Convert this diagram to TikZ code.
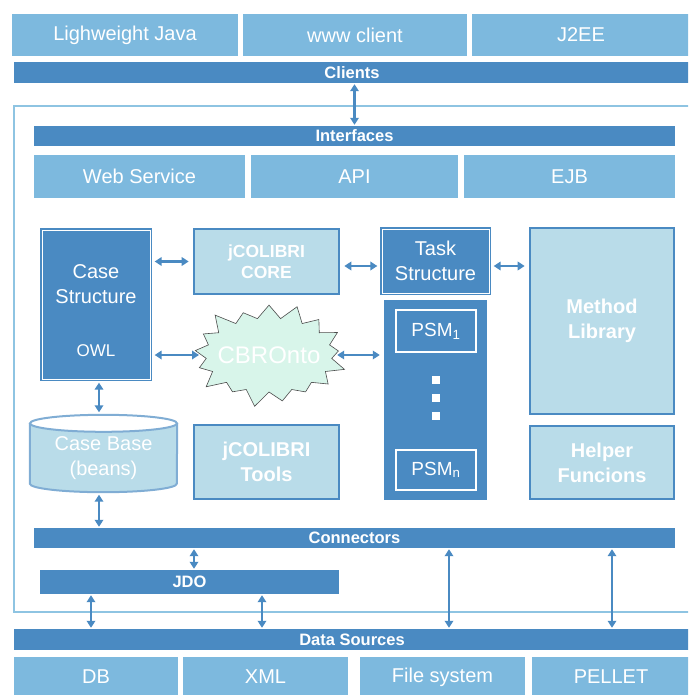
\documentclass[tikz,border=0pt]{standalone}
\usepackage{fontspec}
\setmainfont{Liberation Sans}
\usetikzlibrary{arrows.meta,shapes.symbols,calc}
\definecolor{topblue}{HTML}{7DB9DE}
\definecolor{dkblue}{HTML}{4A8AC2}
\definecolor{lightfill}{HTML}{B9DCE9}
\definecolor{framecol}{HTML}{8EC4E2}
\definecolor{starfill}{HTML}{D8F5EA}
\begin{document}
\begin{tikzpicture}[x=1pt,y=-1pt,
  sz/.style 2 args={rectangle, inner sep=0pt, minimum width=#1pt, minimum height=#2pt},
  big/.style={font=\fontsize{20}{25}\selectfont, text=white, align=center},
  bigb/.style={font=\bfseries\fontsize{20}{25}\selectfont, text=white, align=center},
  barlbl/.style={font=\bfseries\fontsize{16.5}{18}\selectfont, text=white},
  topbox/.style={fill=topblue, big},
  bar/.style={fill=dkblue, barlbl},
  lightbox/.style={fill=lightfill, draw=dkblue, line width=2.6pt, bigb},
  darkbox/.style={fill=dkblue, draw=dkblue, double=white, double distance=0.9pt, line width=1.3pt, big},
  psmbox/.style={fill=dkblue, draw=white, line width=2pt, text=white, font=\fontsize{19}{22}\selectfont},
  arr/.style={draw=dkblue, line width=2.2pt, {Triangle[length=7pt,width=8.5pt]}-{Triangle[length=7pt,width=8.5pt]}},
  gap/.style={shorten <=#1, shorten >=#1}
]
\useasboundingbox (0,0) rectangle (688,695);
\clip (0,0) rectangle (688,695);

% top clients
\node[topbox, sz={226}{42}] (lj) at (125,35) {Lighweight Java};
\node[topbox, sz={224}{42}] (www) at (355,35) {www client};
\node[topbox, sz={218}{42}] (j2ee) at (581,35) {J2EE};
\node[bar, sz={676}{21}] (clients) at (352,72.5) {Clients};

% frame
\draw[framecol, line width=2.5pt] (700,106) -- (14,106) -- (14,612) -- (700,612);

% interfaces
\node[bar, sz={641}{20}] (ifaces) at (354.5,136) {Interfaces};
\node[topbox, sz={211}{43}] (ws) at (139.5,176.5) {Web Service};
\node[topbox, sz={207}{43}] (api) at (354.5,176.5) {API};
\node[topbox, sz={211}{43}] (ejb) at (569.5,176.5) {EJB};

% case structure
\node[darkbox, sz={108}{149}] (case) at (96,304.5) {};
\node[big] (casetxt) at (96,284) {Case\\Structure};
\node[text=white, font=\fontsize{17}{20}\selectfont] (owl) at (96,351) {OWL};

% core / task / method
\node[lightbox, sz={145}{65}, font=\bfseries\fontsize{17.5}{21}\selectfont] (core) at (266.5,261.5) {jCOLIBRI\\CORE};
\node[darkbox, sz={107}{64}] (task) at (435.5,261) {Task\\Structure};
\node[lightbox, sz={144}{186}] (method) at (602,321) {Method\\Library};

% CBROnto
\node[starburst, starburst points=17, starburst point height=18pt, fill=starfill, draw=black!70, line width=0.6pt,
      inner sep=0pt, minimum width=162pt, minimum height=110pt] (cbr) at (269,355) {};
\node[text=white, font=\fontsize{24}{26}\selectfont] (cbrtxt) at (269,355) {CBROnto};

% PSM column
\node[fill=dkblue, sz={103}{200}] (psmcol) at (435.5,400) {};
\node[psmbox, sz={80}{42}] (psm1) at (436,331) {PSM\textsubscript{1}};
\node[psmbox, sz={80}{40}] (psmn) at (436,470) {PSM\textsubscript{n}};
\foreach \yy/\nm in {380/d1,398/d2,416/d3}
  \node[fill=white, sz={8}{8}] (\nm) at (436,\yy) {};

% case base cylinder
\node[sz={147}{60}] (cb) at (103.5,453.5) {};
\fill[lightfill] (cb.north west) -- (cb.south west) arc[start angle=180, end angle=0, x radius=73.5, y radius=8.5]
   -- (cb.north east) arc[start angle=0, end angle=180, x radius=73.5, y radius=8.5] -- cycle;
\draw[dkblue!70, line width=2pt] (cb.north west) -- (cb.south west) arc[start angle=180, end angle=0, x radius=73.5, y radius=8.5]
   -- (cb.north east);
\draw[dkblue!70, line width=2pt] (cb.north) ellipse[x radius=73.5, y radius=8.5];
\node[big] (cbtxt) at (103.5,458) {Case Base\\(beans)};

% tools / helper
\node[lightbox, sz={145}{74}] (tools) at (266.5,462) {jCOLIBRI\\Tools};
\node[lightbox, sz={144}{73}] (helper) at (602,462.5) {Helper\\Funcions};

% connectors, JDO, data sources
\node[bar, sz={641}{20}] (conn) at (354.5,538) {Connectors};
\node[bar, sz={299}{24}] (jdo) at (189.5,582) {JDO};
\node[bar, sz={676}{21}] (ds) at (352,639.5) {Data Sources};
\node[topbox, sz={164}{40}] (db) at (96,677) {DB};
\node[topbox, sz={165}{40}] (xml) at (265.5,677) {XML};
\node[topbox, sz={165}{40}] (fs) at (442.5,677) {File system};
\node[topbox, sz={158}{40}] (pellet) at (611,677) {PELLET};

\coordinate (ax1) at (91,0);
\coordinate (ax2) at (262,0);
\coordinate (ax3) at (449,0);
\coordinate (ax4) at (612,0);
\coordinate (ax5) at (99,0);
\coordinate (ax6) at (194,0);

% arrows
\draw[arr, gap=1pt] (clients.south -| api) -- (ifaces.north -| api);
\draw[arr, gap=4pt] (case.east |- core) -- (core.west);
\draw[arr, shorten <=4pt, shorten >=2pt] (case.east |- cbr) -- (cbr.west);
\draw[arr, shorten <=2pt, shorten >=4pt] (cbr.east) -- (psmcol.west |- cbr);
\draw[arr, gap=4pt] (core.east |- 0,266) -- (task.west |- 0,266);
\draw[arr, gap=4pt] (task.east |- 0,266) -- (method.west |- 0,266);
\draw[arr, shorten <=3pt, shorten >=11pt] (case.south -| ax5) -- (cb.north -| ax5);
\draw[arr, shorten <=11pt, shorten >=1pt] (cb.south -| ax5) -- (conn.north -| ax5);
\draw[arr, gap=1pt] (conn.south -| ax6) -- (jdo.north -| ax6);
\draw[arr, gap=1pt] (jdo.south -| ax1) -- (ds.north -| ax1);
\draw[arr, gap=1pt] (jdo.south -| ax2) -- (ds.north -| ax2);
\draw[arr, gap=1pt] (conn.south -| ax3) -- (ds.north -| ax3);
\draw[arr, gap=1pt] (conn.south -| ax4) -- (ds.north -| ax4);
\end{tikzpicture}
\end{document}
